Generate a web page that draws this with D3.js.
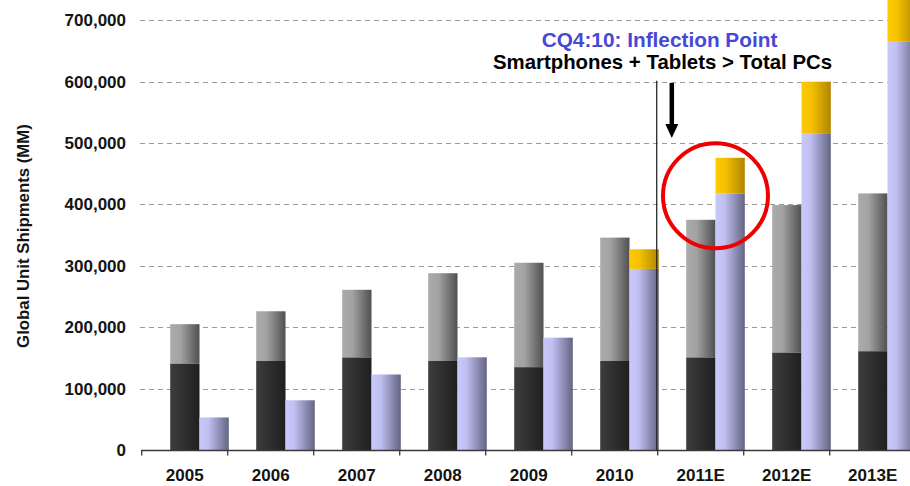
<!DOCTYPE html>
<html>
<head>
<meta charset="utf-8">
<script src="https://cdn.jsdelivr.net/npm/d3@7"></script>
<style>
  html, body { margin: 0; padding: 0; background: #fff; }
  svg { display: block; font-family: "Liberation Sans", Arial, sans-serif; }
</style>
</head>
<body>
<svg id="chart" width="910" height="486"></svg>
<script>
// values (units as on the axis)
var categories  = ['2005', '2006', '2007', '2008', '2009', '2010', '2011E', '2012E', '2013E'];
var desktops    = [141000, 145000, 151000, 145000, 135000, 145000, 151000, 159000, 161000];
var notebooks   = [64000, 81000, 110000, 143000, 170000, 201000, 224000, 240000, 257000];
var smartphones = [53000, 81000, 123000, 151000, 183000, 295000, 418000, 516000, 665000];
var tablets     = [0, 0, 0, 0, 0, 32000, 58000, 84000, 95000];
var yTicks      = [0, 100000, 200000, 300000, 400000, 500000, 600000, 700000];

var svg = d3.select('#chart');

var y = d3.scaleLinear().domain([0, 700000]).range([450, 20.3]);
var x = d3.scaleBand().domain(categories).range([141.7, 141.7 + 86 * categories.length]);

var barOffset = 28.5, barW = 29.3;

// gradients (bars are shaded left to right)
var defs = svg.append('defs');
function grad(id, stops) {
  var g = defs.append('linearGradient').attr('id', id)
    .attr('x1', '0%').attr('x2', '100%').attr('y1', '0%').attr('y2', '0%');
  stops.forEach(function(s) {
    g.append('stop').attr('offset', s[0]).attr('stop-color', s[1]);
  });
}
grad('gDark',   [['0%', '#3d3d3d'], ['100%', '#1f1f1f']]);
grad('gGray',   [['0%', '#ababab'], ['35%', '#a2a2a2'], ['100%', '#505050']]);
grad('gPurple', [['0%', '#c8c8fa'], ['30%', '#c0c0f2'], ['100%', '#646482']]);
grad('gOrange', [['0%', '#ffca00'], ['35%', '#f4c000'], ['100%', '#b08400']]);

// gridlines
svg.append('g').selectAll('line')
  .data(yTicks.filter(function(d) { return d > 0; }))
  .join('line')
  .attr('x1', 140).attr('x2', 910)
  .attr('y1', function(d) { return Math.round(y(d)) + 0.5; })
  .attr('y2', function(d) { return Math.round(y(d)) + 0.5; })
  .attr('stroke', '#9a9a9a')
  .attr('stroke-dasharray', '5,4');

// y tick labels
var yAxis = d3.axisLeft(y).tickValues(yTicks).tickSize(0).tickPadding(15)
  .tickFormat(d3.format(','));
var yg = svg.append('g').attr('transform', 'translate(141,0)').call(yAxis);
yg.select('.domain').remove();
yg.selectAll('text')
  .attr('font-size', 17).attr('font-weight', 'bold')
  .attr('fill', '#141414')
  .attr('font-family', '"Liberation Sans", Arial, sans-serif');

// y axis title
svg.append('text')
  .attr('transform', 'translate(28.5,236) rotate(-90)')
  .attr('text-anchor', 'middle')
  .attr('font-size', 16.8).attr('font-weight', 'bold').attr('fill', '#141414')
  .text('Global Unit Shipments (MM)');

// bars
var bars = svg.append('g');
categories.forEach(function(c, i) {
  var x0 = x(c) + barOffset;
  var x1 = x0 + barW;
  bars.append('rect')
    .attr('x', x0).attr('width', barW)
    .attr('y', y(desktops[i])).attr('height', y(0) - y(desktops[i]))
    .attr('fill', 'url(#gDark)');
  bars.append('rect')
    .attr('x', x0).attr('width', barW)
    .attr('y', y(desktops[i] + notebooks[i]))
    .attr('height', y(desktops[i]) - y(desktops[i] + notebooks[i]))
    .attr('fill', 'url(#gGray)');
  bars.append('rect')
    .attr('x', x1).attr('width', barW)
    .attr('y', y(smartphones[i])).attr('height', y(0) - y(smartphones[i]))
    .attr('fill', 'url(#gPurple)');
  if (tablets[i] > 0) {
    bars.append('rect')
      .attr('x', x1).attr('width', barW)
      .attr('y', y(smartphones[i] + tablets[i]))
      .attr('height', y(smartphones[i]) - y(smartphones[i] + tablets[i]))
      .attr('fill', 'url(#gOrange)');
  }
});

// x axis line, boundary ticks and labels
svg.append('line')
  .attr('x1', 141).attr('x2', 910).attr('y1', 450.5).attr('y2', 450.5)
  .attr('stroke', '#3a3a3a').attr('stroke-width', 1.3);
svg.append('g').selectAll('line')
  .data(categories)
  .join('line')
  .attr('x1', function(d) { return x(d); }).attr('x2', function(d) { return x(d); })
  .attr('y1', 450).attr('y2', 455.5)
  .attr('stroke', '#3a3a3a').attr('stroke-width', 1.3);

var xAxis = d3.axisBottom(x).tickSize(0).tickPadding(0);
var xg = svg.append('g').attr('transform', 'translate(0,466)').call(xAxis);
xg.select('.domain').remove();
xg.selectAll('text')
  .attr('dy', '0.9em')
  .attr('font-size', 17).attr('font-weight', 'bold').attr('fill', '#141414')
  .attr('font-family', '"Liberation Sans", Arial, sans-serif');

// inflection annotation
var markX = x('2011E') - 1;
svg.append('line')
  .attr('x1', markX).attr('x2', markX)
  .attr('y1', y(600000) - 1).attr('y2', 451)
  .attr('stroke', '#2a2a2a').attr('stroke-width', 1.3);

var arrowX = 671.8;
svg.append('line')
  .attr('x1', arrowX).attr('x2', arrowX).attr('y1', 83).attr('y2', 126)
  .attr('stroke', '#000').attr('stroke-width', 4.5);
svg.append('path')
  .attr('d', 'M' + (arrowX - 6.5) + ',124 L' + (arrowX + 6.5) + ',124 L' + arrowX + ',138 Z')
  .attr('fill', '#000');

svg.append('text')
  .attr('x', 659.5).attr('y', 46.5)
  .attr('text-anchor', 'middle')
  .attr('font-size', 20.8).attr('font-weight', 'bold').attr('fill', '#4848d4')
  .text('CQ4:10: Inflection Point');
svg.append('text')
  .attr('x', 662.5).attr('y', 68.5)
  .attr('text-anchor', 'middle')
  .attr('font-size', 20.4).attr('font-weight', 'bold').attr('fill', '#000')
  .text('Smartphones + Tablets > Total PCs');

// red circle around 2011E
svg.append('circle')
  .attr('cx', x('2011E') + barOffset + barW).attr('cy', 195.8).attr('r', 52.5)
  .attr('fill', 'none').attr('stroke', '#ee0000').attr('stroke-width', 4);
</script>
</body>
</html>
